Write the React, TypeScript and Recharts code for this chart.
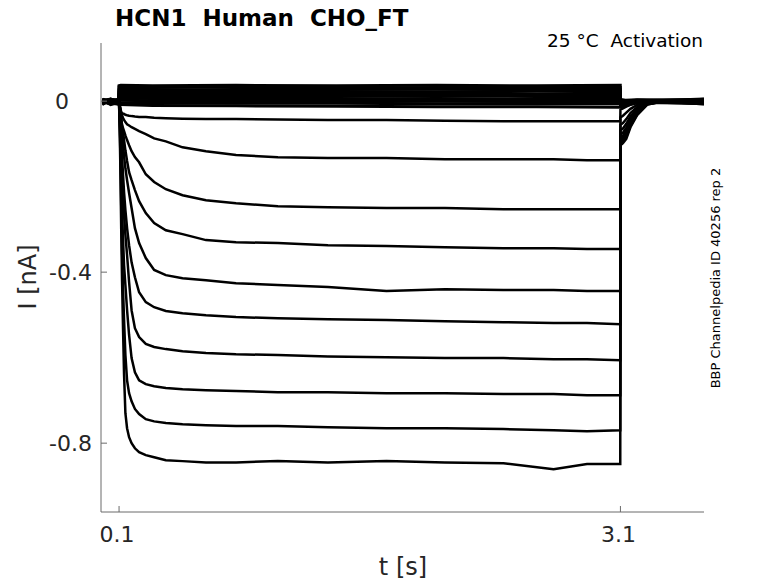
import React from 'react';
import { LineChart, Line, XAxis, YAxis } from 'recharts';

// time grid (s) for the activating sweeps
const sweepTimes = [
    0, 0.05, 0.099,
    0.1, 0.104, 0.108, 0.113, 0.118, 0.124, 0.13, 0.138, 0.148, 0.16, 0.175, 0.195, 0.22, 0.26,
    0.31, 0.38, 0.48, 0.62, 0.8, 1.05, 1.35, 1.7, 2.05, 2.4, 2.7, 2.9, 3.099,
    3.1, 3.115, 3.135, 3.16, 3.2, 3.26, 3.35, 3.6,
];

// time grid (s) for the sweeps that barely activate
const bandTimes = [0, 0.05, 0.099, 0.1, 0.11, 0.3, 0.8, 1.4, 2.0, 2.6, 3.099, 3.1, 3.13, 3.2, 3.6];

// current (nA)
const sweep01 = [0.002, -0.003, 0.001, 0.036, 0.037, 0.036, 0.037, 0.036, 0.037, 0.036, 0.037, 0.004, 0.002, 0.003, 0.001];
const sweep02 = [-0.002, 0.003, 0.0, 0.032, 0.031, 0.033, 0.032, 0.031, 0.032, 0.033, 0.032, 0.003, 0.001, 0.002, 0.003];
const sweep03 = [0.004, 0.0, -0.002, 0.027, 0.028, 0.027, 0.026, 0.027, 0.028, 0.027, 0.027, 0.002, 0.0, 0.002, -0.002];
const sweep04 = [-0.005, 0.002, 0.003, 0.022, 0.023, 0.022, 0.021, 0.022, 0.022, 0.023, 0.022, 0.001, -0.002, 0.001, 0.004];
const sweep05 = [0.001, -0.006, 0.004, 0.017, 0.018, 0.017, 0.016, 0.017, 0.016, 0.017, 0.016, 0.0, -0.003, 0.0, -0.004];
const sweep06 = [0.005, -0.004, -0.006, 0.012, 0.013, 0.012, 0.011, 0.011, 0.012, 0.011, 0.011, -0.002, -0.004, -0.001, 0.005];
const sweep07 = [-0.007, 0.004, 0.002, 0.007, 0.007, 0.006, 0.006, 0.005, 0.006, 0.005, 0.005, -0.004, -0.005, -0.001, -0.006];
const sweep08 = [0.003, -0.008, -0.003, 0.002, 0.002, 0.001, 0.0, 0.0, 0.0, -0.001, -0.001, -0.006, -0.006, -0.002, 0.002];
const sweep09 = [-0.003, 0.005, -0.007, -0.002, -0.003, -0.004, -0.005, -0.005, -0.006, -0.006, -0.006, -0.009, -0.008, -0.003, -0.005];
const sweep10 = [0.0, -0.005, 0.005, -0.006, -0.008, -0.010, -0.011, -0.012, -0.013, -0.013, -0.014, -0.014, -0.011, -0.004, 0.003];

const sweep11 = [
    -0.004, 0.003, -0.002,
    0.0, -0.012, -0.021, -0.026, -0.028, -0.029, -0.03, -0.032, -0.033, -0.034, -0.035, -0.036, -0.037, -0.037,
    -0.039, -0.04, -0.041, -0.042, -0.042, -0.043, -0.044, -0.044, -0.046, -0.047, -0.047, -0.047, -0.047,
    -0.02, -0.017, -0.013, -0.008, -0.004, -0.001, 0.0, -0.004,
];
const sweep12 = [
    0.002, -0.004, 0.003,
    -0.003, -0.007, -0.016, -0.026, -0.033, -0.04, -0.044, -0.049, -0.054, -0.057, -0.061, -0.065, -0.07, -0.077,
    -0.087, -0.094, -0.108, -0.117, -0.126, -0.131, -0.133, -0.133, -0.136, -0.136, -0.136, -0.138, -0.138,
    -0.038, -0.034, -0.027, -0.018, -0.009, -0.003, 0.0, 0.004,
];
const sweep13 = [
    -0.006, 0.0, -0.004,
    -0.003, -0.012, -0.026, -0.042, -0.056, -0.063, -0.07, -0.08, -0.091, -0.103, -0.117, -0.131, -0.143, -0.171,
    -0.189, -0.206, -0.22, -0.232, -0.239, -0.246, -0.248, -0.25, -0.25, -0.253, -0.253, -0.253, -0.253,
    -0.055, -0.051, -0.042, -0.028, -0.014, -0.004, -0.001, -0.002,
];
const sweep14 = [
    0.003, 0.005, -0.001,
    -0.003, -0.012, -0.023, -0.04, -0.056, -0.073, -0.091, -0.115, -0.14, -0.166, -0.185, -0.208, -0.234, -0.262,
    -0.285, -0.302, -0.311, -0.325, -0.33, -0.332, -0.337, -0.339, -0.342, -0.344, -0.344, -0.346, -0.346,
    -0.068, -0.064, -0.053, -0.036, -0.018, -0.005, -0.001, 0.002,
];
const sweep15 = [
    -0.002, -0.007, 0.002,
    -0.003, -0.019, -0.035, -0.056, -0.077, -0.103, -0.129, -0.157, -0.185, -0.215, -0.25, -0.297, -0.332, -0.367,
    -0.395, -0.407, -0.414, -0.419, -0.426, -0.43, -0.435, -0.444, -0.44, -0.442, -0.442, -0.444, -0.444,
    -0.078, -0.074, -0.062, -0.042, -0.021, -0.005, -0.001, -0.006,
];
const sweep16 = [
    0.004, -0.001, -0.006,
    -0.004, -0.028, -0.056, -0.091, -0.131, -0.173, -0.213, -0.255, -0.297, -0.337, -0.377, -0.412, -0.447, -0.47,
    -0.482, -0.491, -0.496, -0.501, -0.505, -0.508, -0.51, -0.512, -0.515, -0.517, -0.519, -0.519, -0.522,
    -0.085, -0.081, -0.068, -0.046, -0.024, -0.006, -0.001, 0.005,
];
const sweep17 = [
    -0.008, 0.002, 0.004,
    -0.004, -0.035, -0.073, -0.126, -0.173, -0.227, -0.267, -0.313, -0.36, -0.423, -0.489, -0.531, -0.552, -0.568,
    -0.575, -0.58, -0.585, -0.589, -0.592, -0.594, -0.597, -0.599, -0.601, -0.601, -0.604, -0.604, -0.606,
    -0.09, -0.086, -0.073, -0.05, -0.026, -0.007, -0.001, -0.003,
];
const sweep18 = [
    0.001, -0.005, -0.008,
    -0.005, -0.044, -0.098, -0.185, -0.255, -0.325, -0.384, -0.43, -0.489, -0.547, -0.601, -0.634, -0.653, -0.662,
    -0.667, -0.671, -0.674, -0.676, -0.678, -0.681, -0.681, -0.683, -0.683, -0.685, -0.685, -0.688, -0.688,
    -0.094, -0.09, -0.078, -0.054, -0.028, -0.007, -0.001, 0.001,
];
const sweep19 = [
    -0.005, 0.004, 0.0,
    -0.005, -0.056, -0.126, -0.243, -0.349, -0.442, -0.512, -0.594, -0.653, -0.683, -0.702, -0.72, -0.732, -0.744,
    -0.749, -0.753, -0.756, -0.758, -0.76, -0.76, -0.763, -0.765, -0.765, -0.767, -0.77, -0.772, -0.77,
    -0.097, -0.093, -0.083, -0.058, -0.031, -0.008, -0.001, -0.007,
];
const sweep20 = [
    -0.004, -0.002, -0.005,
    -0.005, -0.068, -0.16, -0.3, -0.42, -0.535, -0.64, -0.73, -0.765, -0.786, -0.8, -0.812, -0.821, -0.828,
    -0.833, -0.84, -0.842, -0.845, -0.845, -0.842, -0.845, -0.842, -0.845, -0.847, -0.861, -0.849, -0.849,
    -0.103, -0.098, -0.088, -0.061, -0.033, -0.008, -0.001, 0.004,
];

const bandSweeps = [sweep01, sweep02, sweep03, sweep04, sweep05, sweep06, sweep07, sweep08, sweep09, sweep10];
const activationSweeps = [sweep11, sweep12, sweep13, sweep14, sweep15, sweep16, sweep17, sweep18, sweep19, sweep20];

const xTicks = [0.1, 3.1];
const yTicks = [-0.8, -0.4, 0];

const toPoints = (times: number[], values: number[]) => times.map((t, k) => ({ t, i: values[k] }));

const FONT = 'DejaVu Sans';
const AXIS = '#6b6b6b';

function XTick(props: any) {
    const { x, y, payload } = props;
    return (
        <g>
            <line x1={x} y1={y} x2={x} y2={y - 6} stroke={AXIS} />
            <text x={x - 2} y={y + 30} textAnchor='middle' fill='#262626' fontSize={22} fontFamily={FONT}>
                {String(payload.value)}
            </text>
        </g>
    );
}

function YTick(props: any) {
    const { x, y, payload } = props;
    const zero = payload.value === 0;
    return (
        <g>
            <line x1={x} y1={y} x2={x + 6} y2={y} stroke={AXIS} />
            <text x={zero ? x - 32 : x - 9} y={y + 8} textAnchor='end' fill='#262626' fontSize={22} fontFamily={FONT}>
                {String(payload.value)}
            </text>
        </g>
    );
}

export default function App() {
    return (
        <div style={{ position: 'absolute', left: 0, top: 0, width: 778, height: 583, background: '#fff' }}>
            <LineChart width={778} height={583} margin={{ top: 43, right: 74, bottom: 41, left: 41 }}>
                <XAxis
                    type='number'
                    dataKey='t'
                    domain={[-0.008, 3.6]}
                    allowDataOverflow
                    ticks={xTicks}
                    height={30}
                    stroke={AXIS}
                    tickSize={0}
                    tickMargin={0}
                    tickLine={false}
                    tick={<XTick />}
                />
                <YAxis
                    type='number'
                    domain={[-0.961, 0.136]}
                    allowDataOverflow
                    ticks={yTicks}
                    width={60}
                    stroke={AXIS}
                    tickSize={0}
                    tickMargin={0}
                    tickLine={false}
                    tick={<YTick />}
                />
                {bandSweeps.map((s, k) => (
                    <Line
                        key={'b' + k}
                        data={toPoints(bandTimes, s)}
                        dataKey='i'
                        type='linear'
                        stroke='#000'
                        strokeWidth={3}
                        dot={false}
                        isAnimationActive={false}
                    />
                ))}
                {activationSweeps.map((s, k) => (
                    <Line
                        key={'a' + k}
                        data={toPoints(sweepTimes, s)}
                        dataKey='i'
                        type='linear'
                        stroke='#000'
                        strokeWidth={2.5}
                        dot={false}
                        isAnimationActive={false}
                    />
                ))}
            </LineChart>
            <svg width={778} height={583} style={{ position: 'absolute', left: 0, top: 0, pointerEvents: 'none' }}>
                <text x={115} y={26} fontSize={23} fontWeight='bold' fontFamily={FONT} fill='#000' style={{ whiteSpace: 'pre' }}>
                    HCN1  Human  CHO_FT
                </text>
                <text x={703} y={47} textAnchor='end' fontSize={18.5} fontFamily={FONT} fill='#000' style={{ whiteSpace: 'pre' }}>
                    25 °C  Activation
                </text>
                <text x={403} y={575} textAnchor='middle' fontSize={24} fontFamily={FONT} fill='#262626' style={{ whiteSpace: 'pre' }}>
                    t [s]
                </text>
                <text
                    x={36}
                    y={277}
                    textAnchor='middle'
                    fontSize={24}
                    fontFamily={FONT}
                    fill='#262626'
                    transform='rotate(-90 36 277)'
                    style={{ whiteSpace: 'pre' }}
                >
                    I [nA]
                </text>
                <text
                    x={720}
                    y={278}
                    textAnchor='middle'
                    fontSize={13}
                    fontFamily={FONT}
                    fill='#000'
                    transform='rotate(-90 720 278)'
                >
                    BBP Channelpedia ID 40256 rep 2
                </text>
            </svg>
        </div>
    );
}
